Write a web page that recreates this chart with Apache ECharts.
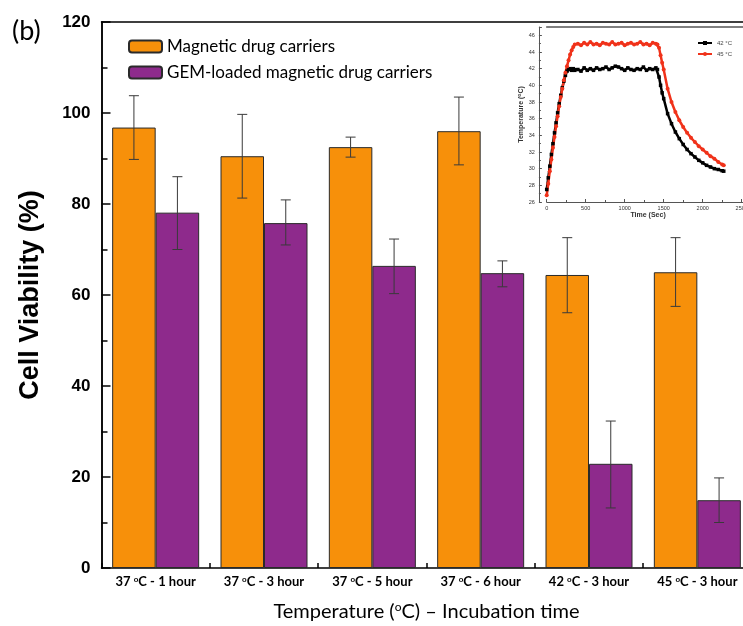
<!DOCTYPE html>
<html>
<head>
<meta charset="utf-8">
<script src="https://cdn.jsdelivr.net/npm/echarts@6/dist/echarts.min.js"></script>
<style>
  html, body { margin: 0; padding: 0; background: #fff; }
  #chart { width: 743px; height: 626px; }
</style>
</head>
<body>
<div id="chart"></div>
<script>
// main bar chart data
const categories = ['37 °C - 1 hour', '37 °C - 3 hour', '37 °C - 5 hour', '37 °C - 6 hour', '42 °C - 3 hour', '45 °C - 3 hour'];
const magneticMean = [96.8, 90.5, 92.5, 96.0, 64.4, 65.0];
const magneticLow = [89.8, 81.3, 90.3, 88.6, 56.1, 57.5];
const magneticHigh = [103.8, 99.7, 94.7, 103.5, 72.6, 72.6];
const gemMean = [78.1, 75.8, 66.4, 64.8, 22.9, 14.9];
const gemLow = [70.0, 71.0, 60.3, 61.8, 13.2, 10.0];
const gemHigh = [86.0, 80.9, 72.3, 67.5, 32.3, 19.8];

// inset: heating curves
const insetTime = [
  0, 20, 40, 60, 80, 100, 120, 140, 160, 180, 200, 220, 240, 260, 280, 300, 320, 340, 360,
  400, 440, 480, 520, 560, 600, 640, 680, 720, 760, 800, 840, 880, 920, 960, 1000, 1040,
  1080, 1120, 1160, 1200, 1240, 1280, 1320, 1360, 1400, 1420,
  1440, 1460, 1480, 1500, 1550, 1600, 1650, 1700, 1750, 1800, 1850, 1900, 1950, 2000,
  2050, 2100, 2150, 2200, 2250, 2270
];
const temp42 = [
  27.5, 28.9, 30.3, 31.7, 33.0, 34.3, 35.5, 36.7, 37.8, 38.8, 39.7, 40.5, 41.2, 41.7, 41.9, 42.0, 41.8, 42.0, 41.8,
  41.9, 41.7, 42.1, 41.8, 42.0, 41.8, 42.1, 41.9, 42.0, 42.2, 41.9, 42.1, 42.3, 42.2, 42.0, 41.8, 42.1,
  41.9, 41.8, 42.0, 41.9, 42.2, 41.8, 42.0, 41.9, 42.1, 41.9,
  41.0, 40.0, 39.1, 38.4, 36.6, 35.4, 34.4, 33.6, 32.9, 32.3, 31.8, 31.4, 31.0, 30.7,
  30.4, 30.2, 30.0, 29.9, 29.75, 29.7
];
const temp45 = [
  26.8, 28.2, 29.7, 31.1, 32.5, 33.8, 35.1, 36.3, 37.5, 38.6, 39.6, 40.6, 41.5, 42.3, 43.0, 43.7, 44.2, 44.6, 44.9,
  45.0, 44.8, 45.1, 44.9, 45.2, 44.9, 45.0, 44.8, 45.1, 45.0, 44.9, 45.2, 44.9, 45.0, 45.1, 44.8, 45.0,
  45.1, 44.9, 45.0, 45.2, 44.9, 45.0, 44.8, 45.1, 45.0, 44.9,
  44.5, 43.6, 42.7, 41.9, 39.6, 38.0, 36.8, 35.8, 35.0, 34.3, 33.7, 33.2, 32.7, 32.3,
  31.9, 31.5, 31.2, 30.8, 30.5, 30.4
];

const chart = echarts.init(document.getElementById('chart'));

const BAR_W = 43.5;
const sup = (s) => s.replace('°', '{s|o}');

// error bars drawn on top of each bar
const errorBars = (low, high, shift) => ({
  type: 'custom',
  xAxisIndex: 0,
  yAxisIndex: 0,
  z: 5,
  silent: true,
  data: categories.map((c, i) => [i, low[i], high[i]]),
  encode: { x: 0, y: [1, 2] },
  renderItem: function (params, api) {
    const x = api.coord([api.value(0), 0])[0] + shift;
    const yTop = api.coord([api.value(0), api.value(2)])[1];
    const yBot = api.coord([api.value(0), api.value(1)])[1];
    const st = { stroke: '#3a3a3a', lineWidth: 1 };
    return {
      type: 'group',
      children: [
        { type: 'line', shape: { x1: x, y1: yTop, x2: x, y2: yBot }, style: st },
        { type: 'line', shape: { x1: x - 5, y1: yTop, x2: x + 5, y2: yTop }, style: st },
        { type: 'line', shape: { x1: x - 5, y1: yBot, x2: x + 5, y2: yBot }, style: st }
      ]
    };
  }
});

// frame-only axis (just the line)
const frameAxis = (gridIndex, position, color) => ({
  type: 'value',
  gridIndex: gridIndex,
  position: position,
  axisLine: { show: true, onZero: false, lineStyle: { color: color, width: 1.5 } },
  axisTick: { show: false },
  axisLabel: { show: false },
  splitLine: { show: false }
});

const option = {
  animation: false,
  backgroundColor: '#fff',
  title: {
    text: '(b)',
    left: 7,
    top: 13,
    textStyle: { fontFamily: 'Lato', fontWeight: 'normal', fontSize: 27, color: '#000' }
  },
  legend: [
    {
      data: ['Magnetic drug carriers', 'GEM-loaded magnetic drug carriers'],
      orient: 'vertical',
      left: 123,
      top: 33,
      itemWidth: 33,
      itemHeight: 12,
      itemGap: 9,
      textStyle: { fontFamily: 'Lato', fontSize: 17, color: '#000' }
    },
    {
      data: ['42 °C', '45 °C'],
      orient: 'vertical',
      left: 692,
      top: 35,
      itemWidth: 14,
      itemHeight: 5,
      itemGap: 5,
      textStyle: { fontFamily: 'Liberation Sans', fontSize: 6, color: '#444' }
    }
  ],
  grid: [
    { left: 101.5, top: 22, width: 650, bottom: 58, outerBoundsMode: 'none' },
    { left: 546.7, top: 27, width: 202.8, height: 175, outerBoundsMode: 'none' }
  ],
  xAxis: [
    {
      type: 'category',
      gridIndex: 0,
      data: categories,
      axisLine: { lineStyle: { color: '#000', width: 1.5 } },
      axisTick: { show: true, inside: true, length: 5, lineStyle: { color: '#000', width: 1.5 } },
      axisLabel: {
        interval: 0,
        margin: 7,
        fontFamily: 'Lato',
        fontWeight: 'bold',
        fontSize: 13,
        color: '#000',
        formatter: (v) => sup(v),
        rich: { s: { fontFamily: 'Lato', fontWeight: 'bold', fontSize: 8, color: '#000', padding: [0, 0, 6, 0] } }
      },
      name: 'Temperature ({s|o}C) – Incubation time',
      nameLocation: 'middle',
      nameGap: 33,
      nameTextStyle: {
        fontFamily: 'Lato',
        fontSize: 20,
        color: '#000',
        rich: { s: { fontFamily: 'Lato', fontSize: 12, color: '#000', padding: [0, 0, 9, 0] } }
      }
    },
    {
      type: 'value',
      gridIndex: 1,
      min: 0,
      max: 2600,
      interval: 500,
      axisLine: { onZero: false, lineStyle: { color: '#555', width: 1 } },
      axisTick: { inside: true, length: 3, lineStyle: { color: '#555' } },
      minorTick: { show: true, splitNumber: 2, length: 2, lineStyle: { color: '#555' } },
      axisLabel: {
        fontFamily: 'Liberation Sans', fontSize: 5.5, color: '#333', margin: 3,
        formatter: (v) => (v > 2500 ? '' : String(v))
      },
      splitLine: { show: false },
      name: 'Time (Sec)',
      nameLocation: 'middle',
      nameGap: 10,
      nameTextStyle: { fontFamily: 'Liberation Sans', fontWeight: 'bold', fontSize: 7, color: '#333' }
    },
    frameAxis(0, 'top', '#000'),
    frameAxis(1, 'top', '#555')
  ],
  yAxis: [
    {
      type: 'value',
      gridIndex: 0,
      min: 0,
      max: 120,
      interval: 20,
      axisLine: { show: true, onZero: false, lineStyle: { color: '#000', width: 1.5 } },
      axisTick: { show: true, inside: true, length: 9, lineStyle: { color: '#000', width: 1.5 } },
      minorTick: { show: true, splitNumber: 2, length: 6, lineStyle: { color: '#000', width: 1.5 } },
      axisLabel: { fontFamily: 'Liberation Sans', fontWeight: 'bold', fontSize: 17, color: '#000', margin: 11 },
      splitLine: { show: false },
      name: 'Cell Viability (%)',
      nameLocation: 'middle',
      nameGap: 57,
      nameTextStyle: { fontFamily: 'Liberation Sans', fontWeight: 'bold', fontSize: 27, color: '#000' }
    },
    {
      type: 'value',
      gridIndex: 1,
      min: 26,
      max: 47,
      interval: 2,
      offset: 7.8,
      axisLine: { show: true, onZero: false, lineStyle: { color: '#555', width: 1 } },
      axisTick: { inside: true, length: 3, lineStyle: { color: '#555' } },
      minorTick: { show: true, splitNumber: 2, length: 2, lineStyle: { color: '#555' } },
      axisLabel: {
        fontFamily: 'Liberation Sans', fontSize: 5.5, color: '#333', margin: 4,
        formatter: (v) => (v > 46 ? '' : String(v))
      },
      splitLine: { show: false },
      name: 'Temperature ({s|o}C)',
      nameLocation: 'middle',
      nameGap: 13,
      nameTextStyle: {
        fontFamily: 'Liberation Sans', fontWeight: 'bold', fontSize: 7, color: '#333',
        rich: { s: { fontFamily: 'Liberation Sans', fontWeight: 'bold', fontSize: 5, color: '#333', padding: [0, 0, 3, 0] } }
      }
    },
    frameAxis(0, 'left', '#000')
  ],
  series: [
    {
      name: 'Magnetic drug carriers',
      type: 'bar',
      xAxisIndex: 0,
      yAxisIndex: 0,
      data: magneticMean,
      barWidth: BAR_W,
      barGap: '0%',
      itemStyle: { color: '#F7900A', borderColor: '#2a2a2a', borderWidth: 1 }
    },
    {
      name: 'GEM-loaded magnetic drug carriers',
      type: 'bar',
      xAxisIndex: 0,
      yAxisIndex: 0,
      data: gemMean,
      barWidth: BAR_W,
      barGap: '0%',
      itemStyle: { color: '#8E2A8C', borderColor: '#2a2a2a', borderWidth: 1 }
    },
    errorBars(magneticLow, magneticHigh, -BAR_W / 2),
    errorBars(gemLow, gemHigh, BAR_W / 2),
    {
      name: '42 °C',
      type: 'line',
      xAxisIndex: 1,
      yAxisIndex: 1,
      data: insetTime.map((t, i) => [t, temp42[i]]),
      symbol: 'rect',
      symbolSize: 3.5,
      showAllSymbol: true,
      lineStyle: { color: '#000', width: 2.5 },
      itemStyle: { color: '#000' }
    },
    {
      name: '45 °C',
      type: 'line',
      xAxisIndex: 1,
      yAxisIndex: 1,
      data: insetTime.map((t, i) => [t, temp45[i]]),
      symbol: 'circle',
      symbolSize: 4,
      showAllSymbol: true,
      lineStyle: { color: '#F0321A', width: 2.5 },
      itemStyle: { color: '#F0321A' }
    }
  ]
};

chart.setOption(option);
</script>
</body>
</html>
